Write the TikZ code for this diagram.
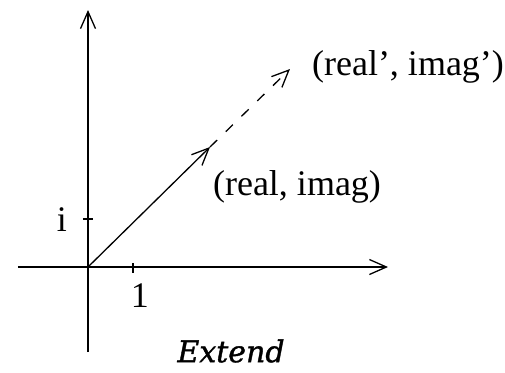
\documentclass[tikz,border=0pt]{standalone}
\usepackage{fontspec}
\setmainfont{Liberation Serif}
\newfontfamily\slabfont[FakeBold=1.2]{DejaVu Serif}
\usetikzlibrary{arrows.meta}

\begin{document}
\begin{tikzpicture}[
    x=0.5pt, y=-0.5pt,
    font=\fontsize{18}{21}\selectfont,
    >={Straight Barb[length=8.5pt, width=7.5pt]},
    axis/.style={line width=0.65pt, ->},
    vec/.style={line width=0.65pt, ->},
    ticmark/.style={line width=0.65pt},
    lbl/.style={inner sep=0pt, anchor=center}
]
\useasboundingbox (0,0) rectangle (505,372);
% axes
\coordinate (O) at (88,267);
\coordinate (xl) at (18,267);
\coordinate (xr) at (388,267);
\coordinate (yb) at (88,352);
\coordinate (yt) at (88,10);
\draw[axis] (xl) -- (xr);
\draw[axis] (yb) -- (yt);
% unit ticks
\draw[ticmark] (133,263) -- (133,273);
\draw[ticmark] (83,219) -- (93,219);
\node[lbl] (one) at (140,296) {1};
\node[lbl] (imu) at (62,220) {i};
% vectors
\coordinate (p) at (210,147);
\coordinate (q) at (290,69);
\draw[vec] (O) -- (p);
\draw[vec, dash pattern=on 5pt off 6pt] (p) -- (q);
\node[lbl] (pt) at (297,187) {(real, imag)};
\node[lbl] (qt) at (408,67) {(real', imag')};
\node[lbl] (title) at (231,351) {\slabfont\itshape\fontsize{15}{18}\selectfont Extend};
\end{tikzpicture}
\end{document}
